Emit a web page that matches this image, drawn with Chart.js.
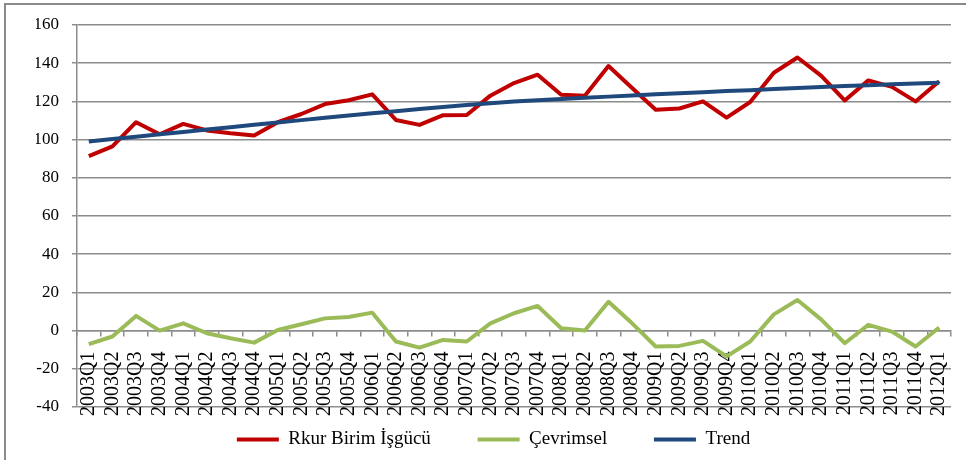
<!DOCTYPE html>
<html>
<head>
<meta charset="utf-8">
<script src="https://cdn.jsdelivr.net/npm/chart.js@4"></script>
<style>
  html, body { margin: 0; padding: 0; background: #fff; }
  #wrap { position: relative; width: 966px; height: 460px; }
  #frame { position: absolute; left: 4px; top: 3px; right: 0; bottom: 0;
           border-left: 2px solid #8a8a8a; border-top: 2px solid #8a8a8a; pointer-events: none; }
</style>
</head>
<body>
<div id="wrap">
  <canvas id="chart" width="966" height="460"></canvas>
  <div id="frame"></div>
</div>
<script>
// quarters on the x axis
const quarters = [
  "2003Q1", "2003Q2", "2003Q3", "2003Q4", "2004Q1", "2004Q2", "2004Q3", "2004Q4",
  "2005Q1", "2005Q2", "2005Q3", "2005Q4", "2006Q1", "2006Q2", "2006Q3", "2006Q4",
  "2007Q1", "2007Q2", "2007Q3", "2007Q4", "2008Q1", "2008Q2", "2008Q3", "2008Q4",
  "2009Q1", "2009Q2", "2009Q3", "2009Q4", "2010Q1", "2010Q2", "2010Q3", "2010Q4",
  "2011Q1", "2011Q2", "2011Q3", "2011Q4", "2012Q1"
];

// series
const rkurBirim = [
  91.3, 96.5, 109.1, 102.8, 108.2, 104.8, 103.3, 102.1,
  109.1, 113.4, 118.6, 120.6, 123.7, 110.3, 107.7, 112.8,
  112.9, 123.0, 129.6, 134.0, 123.5, 123.0, 138.5, 127.0,
  115.6, 116.3, 120.0, 111.5, 119.7, 135.0, 143.0, 133.5,
  120.5, 131.0, 127.6, 120.0, 130.5
];
const cevrimsel = [
  -7.1, -3.1, 7.7, 0.0, 3.8, -1.4, -4.0, -6.3,
  0.3, 3.3, 6.4, 7.1, 9.4, -5.7, -8.9, -4.9,
  -5.7, 3.8, 9.1, 12.9, 1.2, 0.0, 15.1, 3.8,
  -8.3, -8.0, -5.4, -13.5, -5.7, 8.5, 16.0, 5.9,
  -6.6, 3.0, -0.5, -8.3, 1.6
];
const trend = [
  99.0, 100.3, 101.5, 102.8, 104.0, 105.3, 106.5, 107.8,
  109.0, 110.2, 111.4, 112.6, 113.8, 114.9, 116.0, 117.1,
  118.1, 119.0, 119.9, 120.6, 121.3, 121.9, 122.5, 123.1,
  123.7, 124.3, 124.8, 125.4, 125.9, 126.5, 127.0, 127.5,
  128.0, 128.5, 129.0, 129.4, 129.8
];
const yTicks = [-40, -20, 0, 20, 40, 60, 80, 100, 120, 140, 160];

const serif = "'Liberation Serif', 'Times New Roman', serif";
const gridGray = "#8c8c8c";

new Chart(document.getElementById("chart"), {
  type: "line",
  data: {
    labels: quarters,
    datasets: [
      { label: "Rkur Birim İşgücü", data: rkurBirim, borderColor: "#C00000", backgroundColor: "#C00000", borderWidth: 4, order: 2 },
      { label: "Çevrimsel", data: cevrimsel, borderColor: "#9BBB59", backgroundColor: "#9BBB59", borderWidth: 4, order: 1 },
      { label: "Trend", data: trend, borderColor: "#1F497D", backgroundColor: "#1F497D", borderWidth: 4, order: 0 }
    ]
  },
  options: {
    responsive: false,
    animation: false,
    layout: { padding: { left: 36, right: 15, top: 25, bottom: 1 } },
    elements: {
      point: { radius: 0 },
      line: { tension: 0, borderJoinStyle: "round" }
    },
    plugins: {
      tooltip: { enabled: false },
      legend: {
        position: "bottom",
        labels: {
          usePointStyle: true,
          pointStyle: "line",
          pointStyleWidth: 42,
          padding: 23,
          color: "#000",
          font: { family: serif, size: 19 },
          generateLabels(chart) {
            const items = Chart.defaults.plugins.legend.labels.generateLabels(chart);
            items.sort((a, b) => a.datasetIndex - b.datasetIndex);
            items.forEach((it, i) => {
              const ds = chart.data.datasets[it.datasetIndex];
              it.lineWidth = 4;
              it.strokeStyle = ds.borderColor;
              if (i < items.length - 1) it.text += "     ";
            });
            return items;
          }
        }
      }
    },
    scales: {
      x: {
        type: "category",
        offset: true,
        position: { y: 0 },
        afterFit(scale) { scale.paddingLeft = 0; scale.paddingRight = 0; },
        grid: { display: true, drawOnChartArea: false, drawTicks: true, tickLength: 5, offset: true, color: gridGray, lineWidth: 1.5 },
        border: { display: true, color: gridGray, width: 1.5 },
        ticks: { autoSkip: false, minRotation: 90, maxRotation: 90, padding: 16, color: "#000", font: { family: serif, size: 20 } }
      },
      y: {
        min: -40,
        max: 160,
        afterBuildTicks(scale) { scale.ticks = yTicks.map(v => ({ value: v })); },
        afterFit(scale) { scale.width = 41; },
        grid: { color: gridGray, lineWidth: 1.5, tickLength: 5 },
        border: { display: true, color: gridGray, width: 1.5 },
        ticks: { padding: 13, color: "#000", font: { family: serif, size: 17 } }
      }
    }
  }
});
</script>
</body>
</html>
